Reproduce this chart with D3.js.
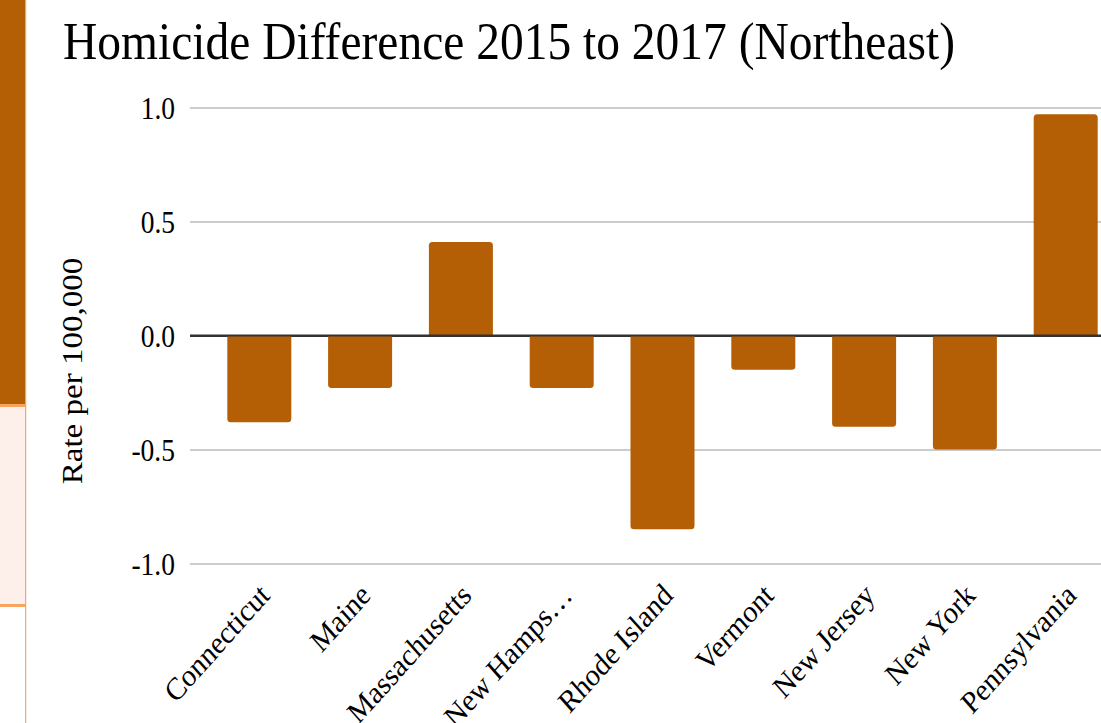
<!DOCTYPE html>
<html>
<head>
<meta charset="utf-8">
<script src="https://cdn.jsdelivr.net/npm/d3@7"></script>
<style>
  html, body { margin: 0; padding: 0; background: #fff; }
  svg { display: block; }
  text { font-family: "Liberation Serif", "Times New Roman", serif; fill: #000; }
</style>
</head>
<body>
<svg id="chart" width="1101" height="723"></svg>
<script>
// Change in homicide rate per 100,000, 2015 vs 2017, Northeast states
const states = ["Connecticut", "Maine", "Massachusetts", "New Hamps…", "Rhode Island",
                "Vermont", "New Jersey", "New York", "Pennsylvania"];
const rateChange = [-0.38, -0.23, 0.41, -0.23, -0.85, -0.15, -0.40, -0.50, 0.97];
const yTicks = [-1.0, -0.5, 0.0, 0.5, 1.0];

const title = "Homicide Difference 2015 to 2017 (Northeast)";
const yLabel = "Rate per 100,000";

const svg = d3.select("#chart");
const W = 1101, H = 723;
const stretch = 1.12; // text is drawn slightly taller than wide

// side panel strip on the left edge
const side = svg.append("g");
side.append("rect").attr("x", 0).attr("y", 0).attr("width", 25).attr("height", 404).attr("fill", "#b45f06");
side.append("rect").attr("x", 0).attr("y", 404).attr("width", 25).attr("height", 3).attr("fill", "#f9a35e");
side.append("rect").attr("x", 0).attr("y", 407).attr("width", 25).attr("height", 197).attr("fill", "#fdefea");
side.append("rect").attr("x", 0).attr("y", 604).attr("width", 25).attr("height", 3).attr("fill", "#f9a35e");
side.append("rect").attr("x", 25).attr("y", 0).attr("width", 1.2).attr("height", H).attr("fill", "#f6a765");

// scales
const x = d3.scaleBand()
  .domain(states)
  .range([208.9, 1116.1])
  .paddingInner(0.365)
  .paddingOuter(0.1825);

const y = d3.scaleLinear().domain([-1, 1]).range([563.5, 107.5]);

const gridLeft = 190;

// gridlines + tick labels
const yAxis = d3.axisLeft(y)
  .tickValues(yTicks)
  .tickFormat(d => d.toFixed(1))
  .tickSize(0)
  .tickPadding(15);

const gy = svg.append("g").attr("transform", `translate(${gridLeft},0)`).call(yAxis);
gy.select(".domain").remove();
gy.selectAll(".tick line")
  .attr("x1", 0).attr("x2", W - gridLeft)
  .attr("stroke", d => d === 0 ? "#333" : "#cccccc")
  .attr("stroke-width", d => d === 0 ? 2.2 : 2);
gy.selectAll(".tick text")
  .attr("font-family", "Liberation Serif, serif")
  .attr("font-size", 27.5)
  .attr("fill", "#000")
  .attr("x", null)
  .attr("dy", null)
  .attr("dominant-baseline", "central")
  .attr("transform", `translate(-15,0) scale(1,${stretch})`);

// bars with rounded outer end
const r = 3.5;
function barPath(d) {
  const x0 = x(d.state), w = x.bandwidth();
  const y0 = y(0), y1 = y(d.value);
  if (d.value >= 0) {
    return `M${x0},${y0}V${y1 + r}Q${x0},${y1} ${x0 + r},${y1}H${x0 + w - r}Q${x0 + w},${y1} ${x0 + w},${y1 + r}V${y0}Z`;
  }
  return `M${x0},${y0}V${y1 - r}Q${x0},${y1} ${x0 + r},${y1}H${x0 + w - r}Q${x0 + w},${y1} ${x0 + w},${y1 - r}V${y0}Z`;
}

const data = states.map((s, i) => ({ state: s, value: rateChange[i] }));

svg.append("g").selectAll("path")
  .data(data)
  .join("path")
  .attr("d", barPath)
  .attr("fill", "#b45f06");

// redraw the zero line above the bars
svg.append("line")
  .attr("x1", gridLeft).attr("x2", W)
  .attr("y1", y(0)).attr("y2", y(0))
  .attr("stroke", "#333").attr("stroke-width", 2.2);

// rotated category labels
svg.append("g").selectAll("text")
  .data(states)
  .join("text")
  .attr("transform", d => `translate(${x(d) + x.bandwidth() / 2 + 12},${597}) scale(1,${stretch}) rotate(-45)`)
  .attr("text-anchor", "end")
  .attr("font-size", 28)
  .text(d => d);

// title
svg.append("text")
  .attr("transform", `translate(63,58.5) scale(1,${stretch})`)
  .attr("font-size", 47.5)
  .text(title);

// y axis title
svg.append("text")
  .attr("transform", `translate(82,371) rotate(-90) scale(${stretch},1)`)
  .attr("text-anchor", "middle")
  .attr("font-size", 29.5)
  .text(yLabel);
</script>
</body>
</html>
